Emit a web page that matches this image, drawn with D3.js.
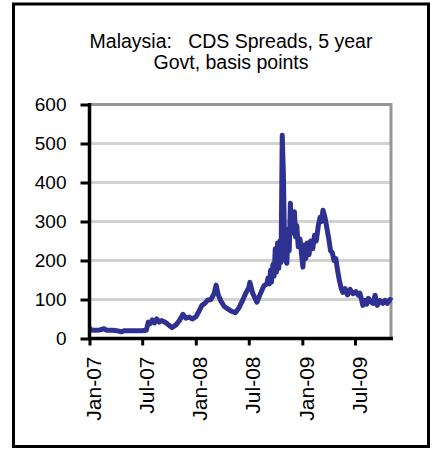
<!DOCTYPE html>
<html>
<head>
<meta charset="utf-8">
<script src="https://cdn.jsdelivr.net/npm/d3@7"></script>
<style>
  body { margin: 0; background: #fff; }
  svg { display: block; font-family: "Liberation Sans", Arial, sans-serif; }
</style>
</head>
<body>
<div id="chart"></div>
<script>
// Title lines
var titleLines = ["Malaysia:   CDS Spreads, 5 year", "Govt, basis points"];

// Y axis ticks (basis points)
var yTicks = [0, 100, 200, 300, 400, 500, 600];

// X axis tick dates and labels
var xTickDates = ["2007-01-01", "2007-07-01", "2008-01-01", "2008-07-01", "2009-01-01", "2009-07-01"];
var xTickLabels = ["Jan-07", "Jul-07", "Jan-08", "Jul-08", "Jan-09", "Jul-09"];

// CDS spread series
var dates = [
  "2007-01-01", "2007-01-08", "2007-01-20", "2007-02-05", "2007-02-20", "2007-03-01",
  "2007-03-20", "2007-04-05", "2007-04-20", "2007-05-01", "2007-05-20", "2007-06-10",
  "2007-06-30", "2007-07-15", "2007-07-22", "2007-07-28", "2007-08-05", "2007-08-12",
  "2007-08-20", "2007-08-28", "2007-09-05", "2007-09-17", "2007-09-28", "2007-10-11",
  "2007-10-25", "2007-11-05", "2007-11-18", "2007-11-28", "2007-12-10", "2007-12-20",
  "2008-01-02", "2008-01-12", "2008-01-22", "2008-02-01", "2008-02-10", "2008-02-22",
  "2008-03-04", "2008-03-11", "2008-03-18", "2008-03-28", "2008-04-08", "2008-04-20",
  "2008-05-02", "2008-05-16", "2008-05-28", "2008-06-08", "2008-06-20", "2008-07-01",
  "2008-07-05", "2008-07-15", "2008-07-29", "2008-08-10", "2008-08-22", "2008-09-01",
  "2008-09-05", "2008-09-10", "2008-09-14", "2008-09-17", "2008-09-22", "2008-09-26",
  "2008-09-30", "2008-10-04", "2008-10-08", "2008-10-12", "2008-10-16", "2008-10-20",
  "2008-10-24", "2008-10-28", "2008-11-01", "2008-11-05", "2008-11-09", "2008-11-13",
  "2008-11-17", "2008-11-21", "2008-11-24", "2008-11-27", "2008-12-01", "2008-12-05",
  "2008-12-09", "2008-12-13", "2008-12-18", "2008-12-24", "2009-01-03", "2009-01-08",
  "2009-01-13", "2009-01-18", "2009-01-24", "2009-01-30", "2009-02-06", "2009-02-12",
  "2009-02-18", "2009-02-25", "2009-03-03", "2009-03-08", "2009-03-13", "2009-03-20",
  "2009-03-27", "2009-04-02", "2009-04-08", "2009-04-14", "2009-04-20", "2009-04-26",
  "2009-05-02", "2009-05-08", "2009-05-14", "2009-05-20", "2009-05-28", "2009-06-05",
  "2009-06-14", "2009-06-24", "2009-07-04", "2009-07-12", "2009-07-18", "2009-07-28",
  "2009-08-04", "2009-08-10", "2009-08-16", "2009-08-22", "2009-09-01", "2009-09-08",
  "2009-09-15", "2009-09-25", "2009-10-05", "2009-10-12", "2009-10-20", "2009-10-29",
  "2009-11-05"
];
var spreads = [
  26, 22, 21, 22, 25, 21,
  21, 20, 17, 20, 20, 20,
  20, 21, 42, 38, 48, 40,
  50, 42, 46, 42, 36, 28,
  35, 45, 62, 52, 55, 50,
  56, 70, 85, 90, 98, 100,
  115, 137, 112, 95, 82, 76,
  70, 66, 78, 95, 115, 130,
  144, 115, 93, 115, 135, 140,
  155, 140, 175, 145, 190, 160,
  230, 170, 245, 180, 250, 195,
  521, 420, 240, 200, 193, 280,
  225, 347, 280, 320, 270, 325,
  260, 290, 235, 255, 183, 240,
  205, 245, 215, 250, 230, 265,
  250, 290, 311, 300, 329, 310,
  280, 255, 225, 220, 200, 205,
  175, 150, 130, 118, 128, 112,
  126, 115, 120, 111, 116, 85,
  98, 88, 103, 95, 90, 111,
  85, 97, 90, 98, 90, 100,
  97
];

var parse = d3.timeParse("%Y-%m-%d");
var series = dates.map(function(d, i) { return { date: parse(d), value: spreads[i] }; });

var width = 433, height = 449;

var svg = d3.select("#chart").append("svg")
    .attr("width", width)
    .attr("height", height);

svg.append("rect")
    .attr("width", width).attr("height", height)
    .attr("fill", "#fff");

// outer frame
svg.append("rect")
    .attr("x", 13.5).attr("y", 4)
    .attr("width", 415).attr("height", 442.5)
    .attr("fill", "none")
    .attr("stroke", "#000")
    .attr("stroke-width", 3);

// title
svg.append("g").selectAll("text")
    .data(titleLines)
    .enter().append("text")
    .attr("x", 231)
    .attr("y", function(d, i) { return 48 + i * 21; })
    .attr("text-anchor", "middle")
    .attr("font-size", 19.5)
    .style("white-space", "pre")
    .attr("xml:space", "preserve")
    .attr("fill", "#000")
    .text(function(d) { return d; });

// scales
var x = d3.scaleTime()
    .domain([parse("2007-01-01"), parse("2009-11-05")])
    .range([89.5, 392]);

var y = d3.scaleLinear()
    .domain([0, 600])
    .range([338.5, 104.5]);

// gridlines
svg.append("g").selectAll("line")
    .data(yTicks.filter(function(d) { return d > 0 && d < 600; }))
    .enter().append("line")
    .attr("x1", 89.5).attr("x2", 390)
    .attr("y1", function(d) { return y(d); })
    .attr("y2", function(d) { return y(d); })
    .attr("stroke", "#d2d2d2")
    .attr("stroke-width", 3);

// top and right plot border (grey)
svg.append("path")
    .attr("d", "M" + x.range()[0] + "," + y(600) + "H" + (x.range()[1] - 1) + "V" + y(0))
    .attr("fill", "none")
    .attr("stroke", "#969696")
    .attr("stroke-width", 3);

// the series
var line = d3.line()
    .x(function(d) { return x(d.date); })
    .y(function(d) { return y(d.value); });

svg.append("path")
    .datum(series)
    .attr("d", line)
    .attr("fill", "none")
    .attr("stroke", "#2f3192")
    .attr("stroke-width", 5)
    .attr("stroke-linejoin", "round");

// y axis
var yAxis = d3.axisLeft(y)
    .tickValues(yTicks)
    .tickSize(9)
    .tickPadding(14)
    .tickFormat(d3.format("d"));

var gy = svg.append("g")
    .attr("transform", "translate(89.5,0)")
    .call(yAxis);
gy.select(".domain").attr("stroke", "#000").attr("stroke-width", 3.5)
    .attr("d", "M0," + (y(600) - 1.5) + "V" + (y(0) + 1.5));
gy.selectAll(".tick line").attr("stroke", "#000").attr("stroke-width", 3);
gy.selectAll(".tick text")
    .attr("font-size", 19)
    .attr("font-family", "Liberation Sans, Arial, sans-serif")
    .attr("fill", "#000");

// x axis
var xAxis = d3.axisBottom(x)
    .tickValues(xTickDates.map(parse))
    .tickSize(7)
    .tickFormat(function(d, i) { return xTickLabels[i]; });

var gx = svg.append("g")
    .attr("transform", "translate(0," + y(0) + ")")
    .call(xAxis);
gx.select(".domain").attr("stroke", "#000").attr("stroke-width", 3.5)
    .attr("d", "M88," + 0 + "H393");
gx.selectAll(".tick line").attr("stroke", "#000").attr("stroke-width", 3);
gx.selectAll(".tick text")
    .attr("font-size", 21)
    .attr("font-family", "Liberation Sans, Arial, sans-serif")
    .attr("fill", "#000")
    .attr("text-anchor", "end")
    .attr("dy", null)
    .attr("y", null)
    .attr("transform", "translate(11,18) rotate(-90)");
</script>
</body>
</html>
